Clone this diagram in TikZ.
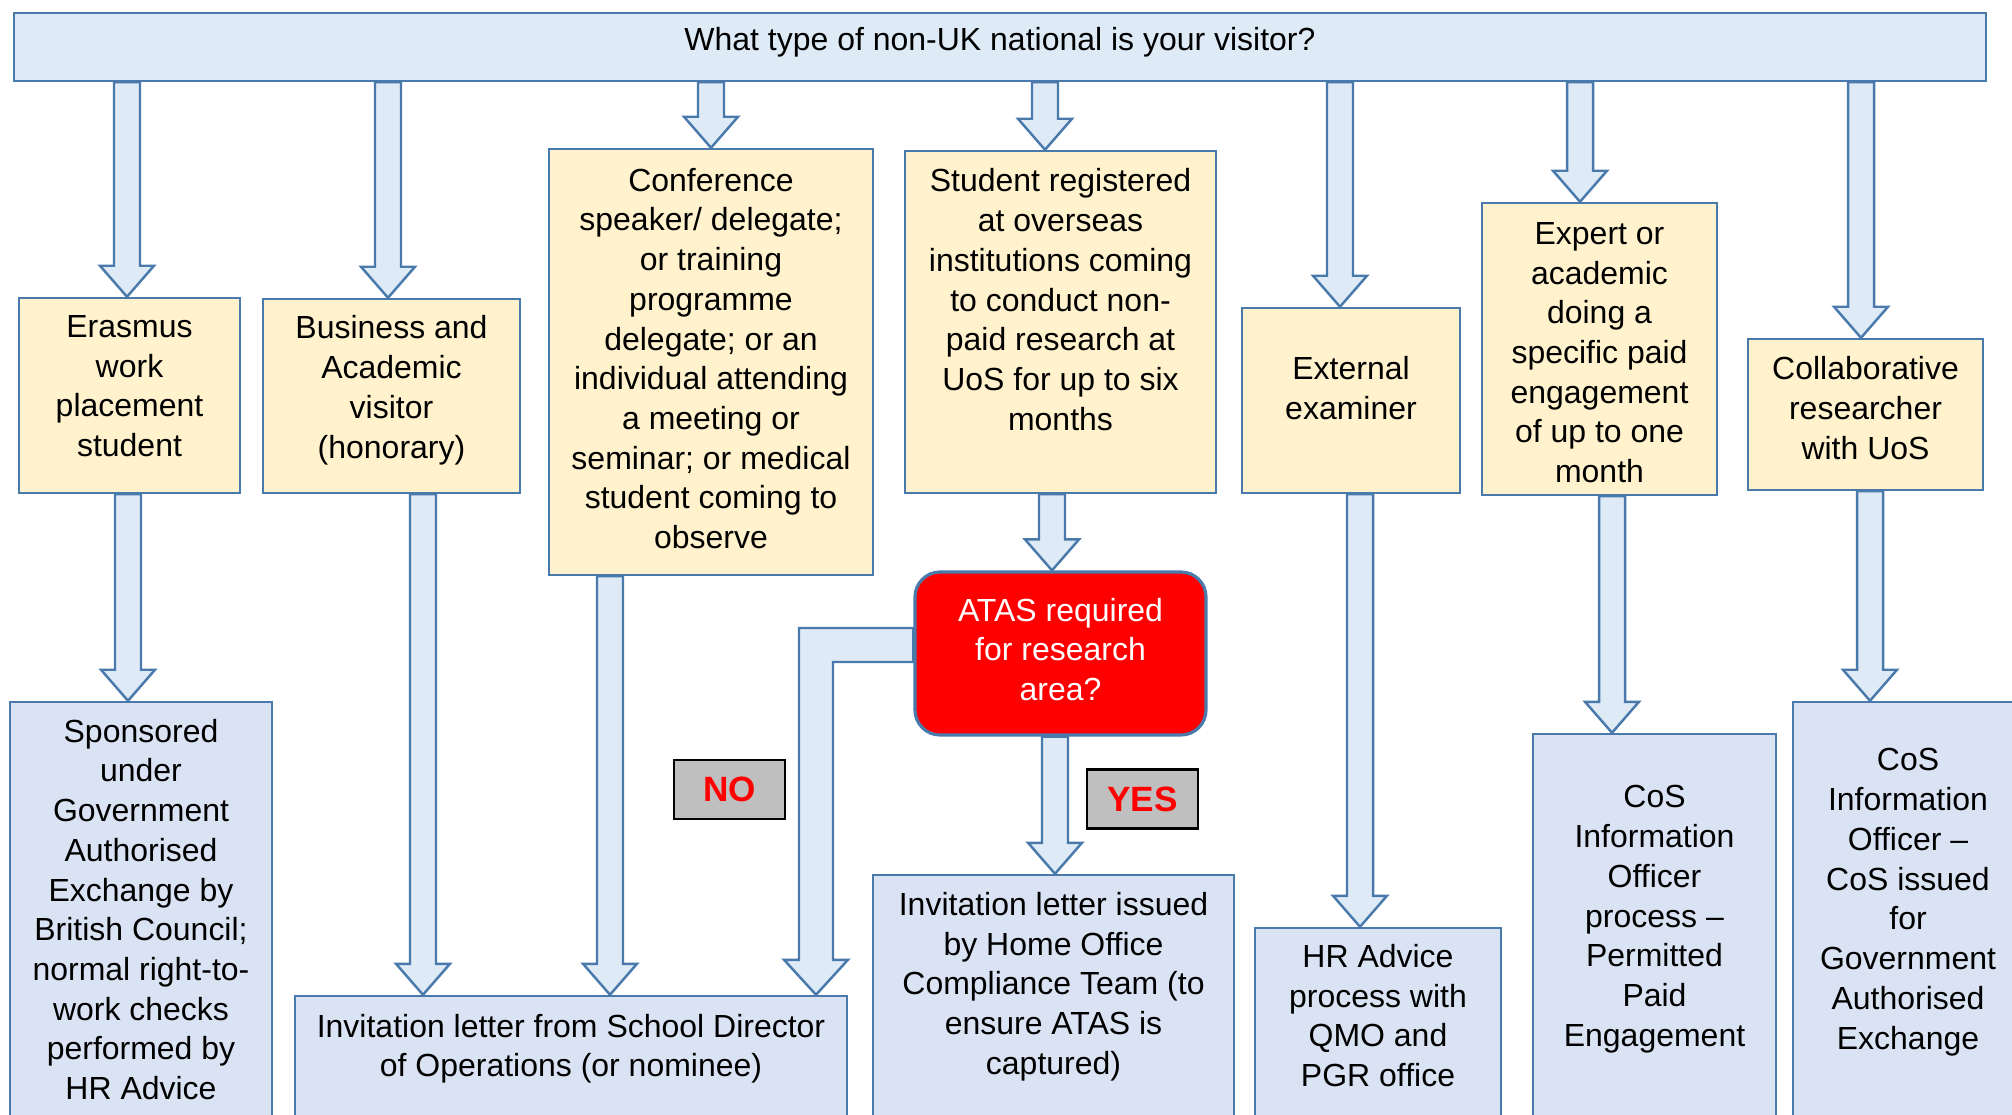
\documentclass[tikz,border=0pt]{standalone}
\usepackage{fontspec}
\setmainfont{Liberation Sans}
\usetikzlibrary{calc}

\definecolor{edgeblue}{RGB}{74,122,172}
\definecolor{topfill}{RGB}{222,234,246}
\definecolor{pickfill}{RGB}{255,242,204}
\definecolor{endfill}{RGB}{218,227,243}
\definecolor{askred}{RGB}{255,0,0}
\definecolor{tagfill}{RGB}{191,191,191}

\def\shaftw{0.13cm}
\def\headw{0.27cm}
\def\headl{0.31cm}
% fat arrow straight down at x=#1, from node #2 to node #3
\newcommand\blockdown[3]{%
  \draw[blockarrow] let \p1=(#2.south), \p2=(#3.north) in
    (#1cm-\shaftw,\y1) -- (#1cm-\shaftw,\y2+\headl) -- (#1cm-\headw,\y2+\headl)
    -- (#1cm,\y2) -- (#1cm+\headw,\y2+\headl) -- (#1cm+\shaftw,\y2+\headl)
    -- (#1cm+\shaftw,\y1) -- cycle;}

\begin{document}
\begin{tikzpicture}[x=1cm,y=-1cm,
  every node/.style={font=\fontsize{9.1}{11.3}\selectfont,align=center,
    inner xsep=0pt,inner ysep=0pt,anchor=base},
  topq/.style={draw=edgeblue,fill=topfill,line width=0.7pt},
  pick/.style={draw=edgeblue,fill=pickfill,line width=0.7pt},
  outcome/.style={draw=edgeblue,fill=endfill,line width=0.7pt,text depth=4cm},
  atas/.style={draw=edgeblue,fill=askred,text=white,line width=0.9pt,
    rounded corners=0.25cm},
  tag/.style={draw=black,fill=tagfill,line width=0.8pt,text=askred,
    font=\fontsize{10}{12}\selectfont\bfseries,anchor=center,
    minimum width=1.11cm,minimum height=0.59cm},
  blockarrow/.style={draw=edgeblue,fill=topfill,line width=0.7pt,line join=miter}]
\useasboundingbox (0,0) rectangle (20.12,11.15);
\clip (0,0) rectangle (20.12,11.15);

% question (nodes sit on the baseline of their last line)
\node[topq,minimum width=19.72cm,text height=0.38cm,text depth=0.30cm]
  (question) at (10.00,0.51) {What type of non-UK national is your visitor?};

% kinds of visitor
\node[pick,minimum width=2.21cm,text height=1.586cm,text depth=0.364cm]
  (erasmus) at (1.295,4.566) {Erasmus\\work\\placement\\student};
\node[pick,minimum width=2.57cm,text height=1.591cm,text depth=0.349cm]
  (business) at (3.915,4.581) {Business and\\Academic\\visitor\\(honorary)};
\node[pick,minimum width=3.24cm,text height=3.997cm,text depth=0.263cm]
  (conf) at (7.11,5.487) {Conference\\speaker/ delegate;\\or training\\programme\\delegate; or an\\individual attending\\a meeting or\\seminar; or medical\\student coming to\\observe};
\node[pick,minimum width=3.11cm,text height=2.792cm,text depth=0.628cm]
  (student) at (10.605,4.302) {Student registered\\at overseas\\institutions coming\\to conduct non-\\paid research at\\UoS for up to six\\months};
\node[pick,minimum width=2.18cm,text height=1.114cm,text depth=0.736cm]
  (examiner) at (13.51,4.194) {External\\examiner};
\node[pick,minimum width=2.35cm,text height=2.797cm,text depth=0.123cm]
  (expert) at (15.995,4.827) {Expert or\\academic\\doing a\\specific paid\\engagement\\of up to one\\month};
\node[pick,minimum width=2.35cm,text height=1.202cm,text depth=0.308cm]
  (collab) at (18.655,4.592) {Collaborative\\researcher\\with UoS};

% ATAS question and answers
\node[atas,minimum width=2.91cm,text height=1.287cm,text depth=0.343cm]
  (atas) at (10.605,7.007) {ATAS required\\for research\\area?};
\node[tag] (no) at (7.295,7.895) {NO};
\node[tag] (yes) at (11.425,7.99) {YES};

% what happens next
\node[outcome,minimum width=2.62cm,text height=3.977cm]
  (sponsored) at (1.41,10.997) {Sponsored\\under\\Government\\Authorised\\Exchange by\\British Council;\\normal right-to-\\work checks\\performed by\\HR Advice};
\node[outcome,minimum width=5.52cm,text height=0.809cm]
  (schoolinv) at (5.71,10.769) {Invitation letter from School Director\\of Operations (or nominee)};
\node[outcome,minimum width=3.61cm,text height=1.994cm]
  (homeinv) at (10.535,10.744) {Invitation letter issued\\by Home Office\\Compliance Team (to\\ensure ATAS is\\captured)};
\node[outcome,minimum width=2.46cm,text height=1.586cm]
  (hradvice) at (13.78,10.866) {HR Advice\\process with\\QMO and\\PGR office};
\node[outcome,minimum width=2.43cm,text height=3.122cm]
  (cospaid) at (16.545,10.462) {CoS\\Information\\Officer\\process –\\Permitted\\Paid\\Engagement};
\node[outcome,minimum width=2.30cm,text height=3.47cm]
  (cosexchange) at (19.08,10.49) {CoS\\Information\\Officer –\\CoS issued\\for\\Government\\Authorised\\Exchange};

% arrows from the question
\blockdown{1.27}{question}{erasmus}
\blockdown{3.88}{question}{business}
\blockdown{7.11}{question}{conf}
\blockdown{10.45}{question}{student}
\blockdown{13.40}{question}{examiner}
\blockdown{15.80}{question}{expert}
\blockdown{18.61}{question}{collab}

% arrows to the outcomes
\blockdown{1.28}{erasmus}{sponsored}
\blockdown{4.23}{business}{schoolinv}
\blockdown{6.10}{conf}{schoolinv}
\blockdown{10.52}{student}{atas}
\blockdown{10.55}{atas}{homeinv}
\blockdown{13.60}{examiner}{hradvice}
\blockdown{16.12}{expert}{cospaid}
\blockdown{18.70}{collab}{cosexchange}

% NO branch, bent
\coordinate (nobend) at (8.16,6.45);
\draw[blockarrow] let \p1=(atas.west), \p2=(schoolinv.north), \p3=(nobend) in
  (\x1,\y3+0.17cm) -- (\x3-0.17cm,\y3+0.17cm) -- (\x3-0.17cm,\y2+0.35cm)
  -- (\x3-0.32cm,\y2+0.35cm) -- (\x3,\y2) -- (\x3+0.32cm,\y2+0.35cm)
  -- (\x3+0.17cm,\y2+0.35cm) -- (\x3+0.17cm,\y3-0.17cm) -- (\x1,\y3-0.17cm) -- cycle;
\end{tikzpicture}
\end{document}
